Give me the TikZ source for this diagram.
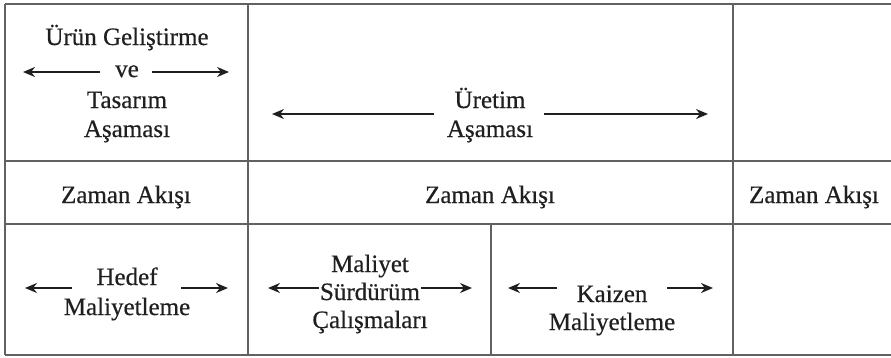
\documentclass[tikz,border=0pt]{standalone}
\usepackage{fontspec}
\setmainfont{Liberation Serif}
\newfontfamily\cellfont{Liberation Serif}[FakeBold=0.5]
\usetikzlibrary{arrows.meta}
\begin{document}
\begin{tikzpicture}[x=1pt,y=-1pt,
  grid/.style={draw=black!62,line width=1.7pt},
  lbl/.style={inner sep=0pt,anchor=base,text=black!88,font=\cellfont\fontsize{25}{30}\selectfont},
  arr/.style={draw=black!88,line width=1.7pt,-{Stealth[length=12pt,width=10pt]}}]
\useasboundingbox (0,0) rectangle (891,357);

% table rules
\draw[grid] (5,4) -- (891,4);
\draw[grid] (5,161) -- (891,161);
\draw[grid] (5,224) -- (891,224);
\draw[grid] (5,355) -- (891,355);
\draw[grid] (5,4) -- (5,355);
\draw[grid] (248,4) -- (248,355);
\draw[grid] (733,4) -- (733,355);
\draw[grid] (491,224) -- (491,355);

% design phase
\node[lbl] (urun) at (127,45) {Ürün Geliştirme};
\node[lbl] (ve) at (127,77) {ve};
\node[lbl] (tasarim) at (127,108) {Tasarım};
\node[lbl] (asama1) at (127,137) {Aşaması};
\coordinate (veLt) at (100,72);  \coordinate (veL) at (23,72);
\coordinate (veRt) at (152,72);  \coordinate (veR) at (229,72);
\draw[arr] (veLt) -- (veL);
\draw[arr] (veRt) -- (veR);

% production phase
\node[lbl] (uretim) at (490,108) {Üretim};
\node[lbl] (asama2) at (490,137) {Aşaması};
\coordinate (urLt) at (434,114); \coordinate (urL) at (272,114);
\coordinate (urRt) at (544,114); \coordinate (urR) at (708,114);
\draw[arr] (urLt) -- (urL);
\draw[arr] (urRt) -- (urR);

% time flow row
\node[lbl] (z1) at (126,203) {Zaman Akışı};
\node[lbl] (z2) at (490,203) {Zaman Akışı};
\node[lbl] (z3) at (814,203) {Zaman Akışı};

% target costing
\node[lbl] (hedef) at (127,285) {Hedef};
\node[lbl] (hmal) at (127,315) {Maliyetleme};
\coordinate (hLt) at (72,288);  \coordinate (hL) at (25,288);
\coordinate (hRt) at (181,288); \coordinate (hR) at (228,288);
\draw[arr] (hLt) -- (hL);
\draw[arr] (hRt) -- (hR);

% cost maintenance
\node[lbl] (maliyet) at (370,272) {Maliyet};
\node[lbl] (surdurum) at (370,300) {Sürdürüm};
\node[lbl] (calisma) at (370,328) {Çalışmaları};
\coordinate (sLt) at (319,288); \coordinate (sL) at (268,288);
\coordinate (sRt) at (421,288); \coordinate (sR) at (472,288);
\draw[arr] (sLt) -- (sL);
\draw[arr] (sRt) -- (sR);

% kaizen costing
\node[lbl] (kaizen) at (612,302) {Kaizen};
\node[lbl] (kmal) at (612,330) {Maliyetleme};
\coordinate (kLt) at (557,288); \coordinate (kL) at (508,288);
\coordinate (kRt) at (667,288); \coordinate (kR) at (713,288);
\draw[arr] (kLt) -- (kL);
\draw[arr] (kRt) -- (kR);
\end{tikzpicture}
\end{document}
